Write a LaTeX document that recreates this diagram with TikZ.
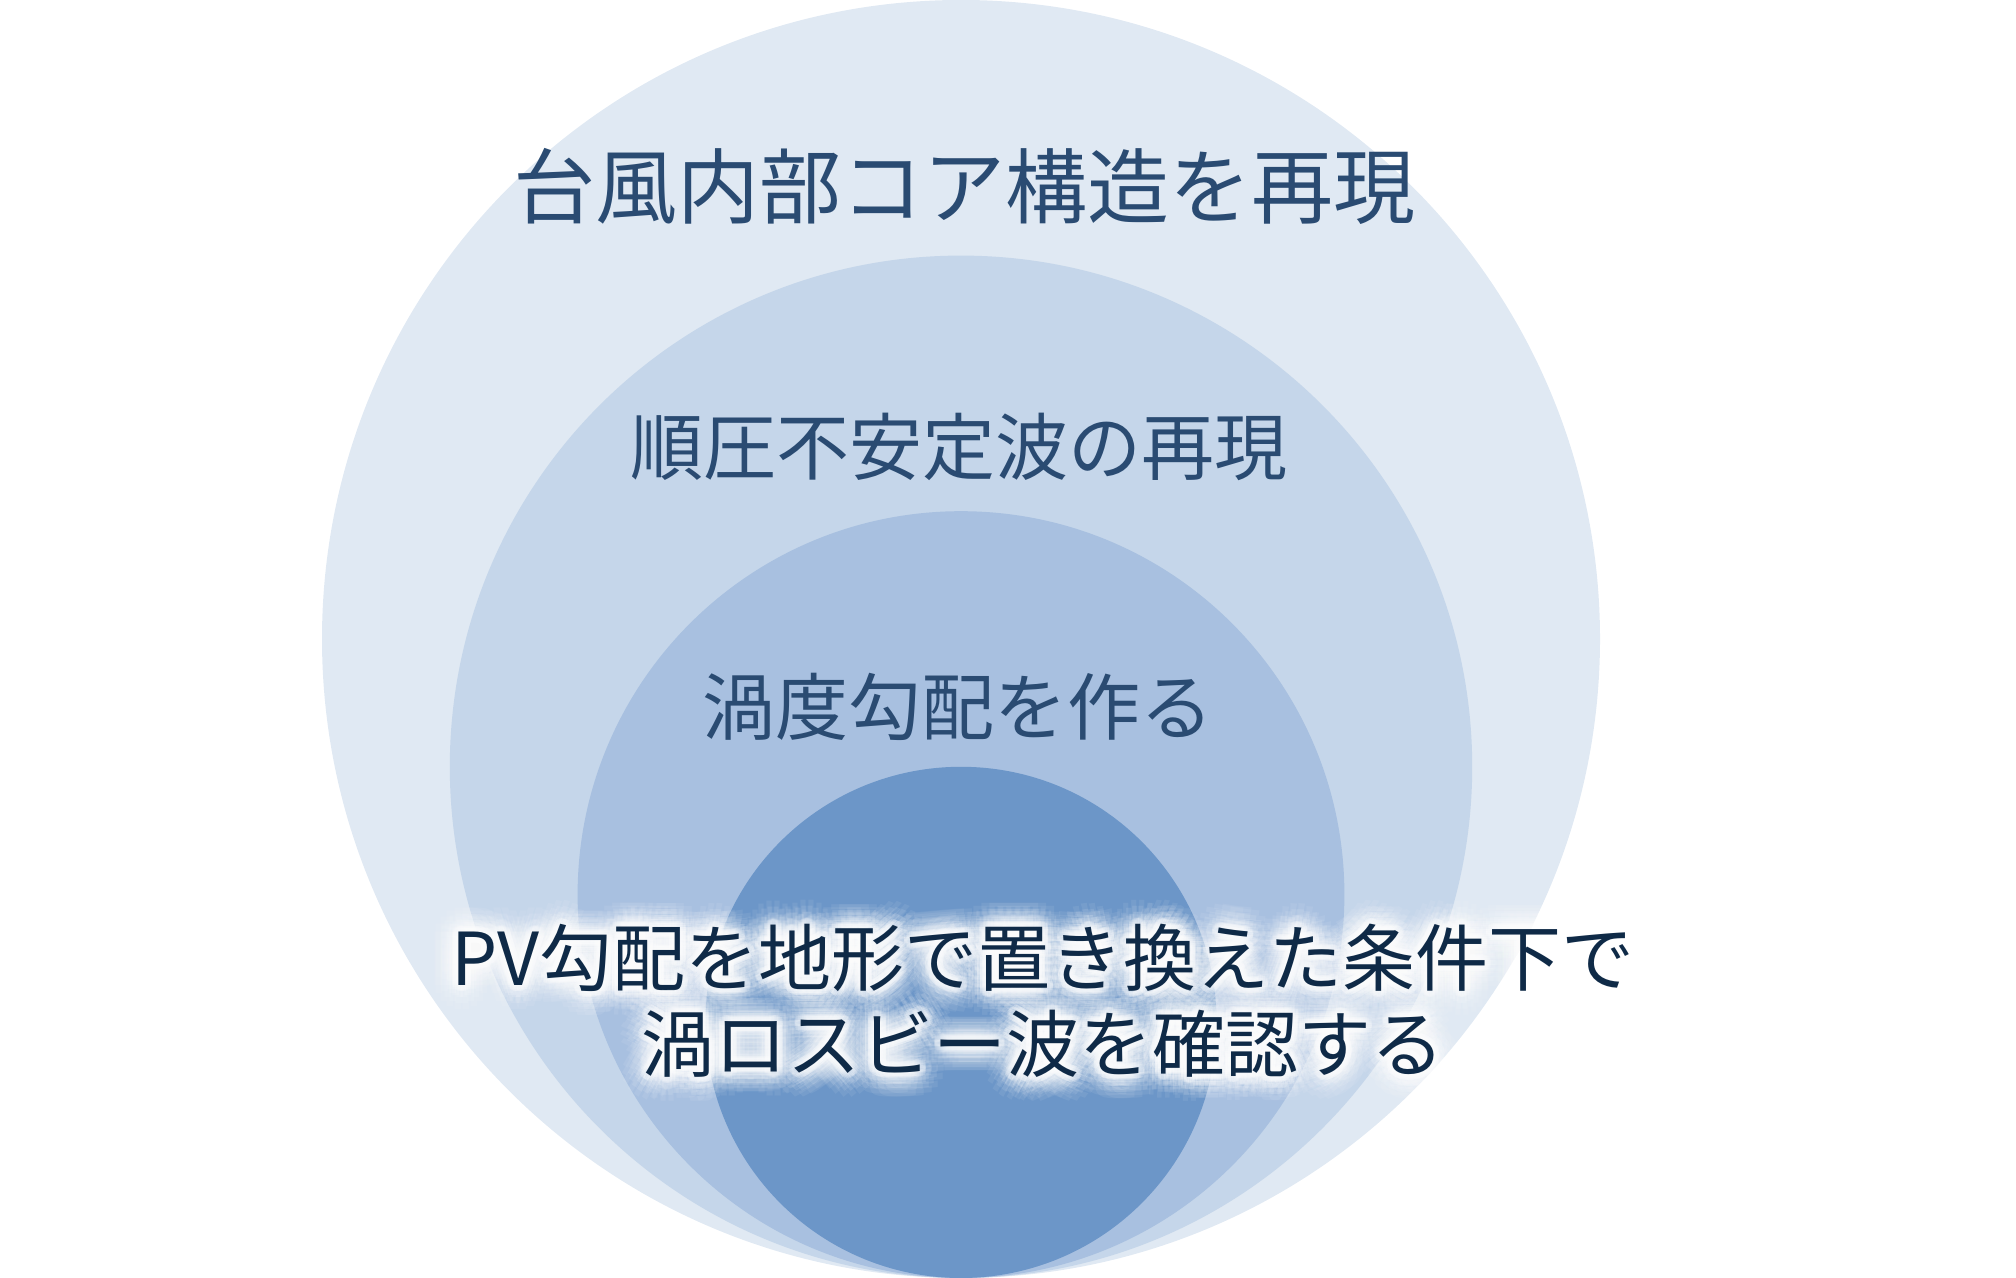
\documentclass[tikz,border=0pt]{standalone}
\usepackage{fontspec}
\newfontfamily\jp{Noto Sans CJK JP}
\usetikzlibrary{calc}
\definecolor{cA}{HTML}{E0E9F3}
\definecolor{cB}{HTML}{C5D6EA}
\definecolor{cC}{HTML}{A8C0E0}
\definecolor{cD}{HTML}{6C96C8}
\definecolor{txtA}{HTML}{2A4B72}
\definecolor{txtB}{HTML}{0F2A47}
\tikzset{
  lab/.style={font=\jp\fontsize{36.5pt}{40pt}\selectfont, text=txtA, inner sep=0pt, anchor=center},
  bigl/.style={lab, font=\jp\fontsize{41pt}{45pt}\selectfont},
  core/.style={font=\jp\fontsize{36.5pt}{40pt}\selectfont, text=txtB, inner sep=0pt, anchor=center},
  halo/.style={core, text=white},
}
\newcommand\glowline[3]{%
  \foreach \r/\o in {12/0.07,9/0.10,6/0.14,3/0.22}{%
    \foreach \a in {0,20,...,340}{%
      \node[halo, opacity=\o] at ($(#2)+(\a:\r pt)$) {#3};
    }%
  }%
  \node[core] (#1) at (#2) {#3};
}
\begin{document}
\begin{tikzpicture}[x=1pt,y=1pt]
\useasboundingbox (0,0) rectangle (1008,639);
\fill[cA] (480.5,319.5) circle (319.5);
\fill[cB] (480.5,255.6) circle (255.6);
\fill[cC] (480.5,191.7) circle (191.7);
\fill[cD] (480.5,127.8) circle (127.8);
\node[bigl] (t1) at (482,546) {台風内部コア構造を再現};
\node[lab] (t2) at (479.5,415.5) {順圧不安定波の再現};
\node[lab] (t3) at (479,285.5) {渦度勾配を作る};
\coordinate (p1) at (521.5,160);
\coordinate (p2) at (521.5,117);
\glowline{t4a}{p1}{PV勾配を地形で置き換えた条件下で}
\glowline{t4b}{p2}{渦ロスビー波を確認する}
\end{tikzpicture}
\end{document}
